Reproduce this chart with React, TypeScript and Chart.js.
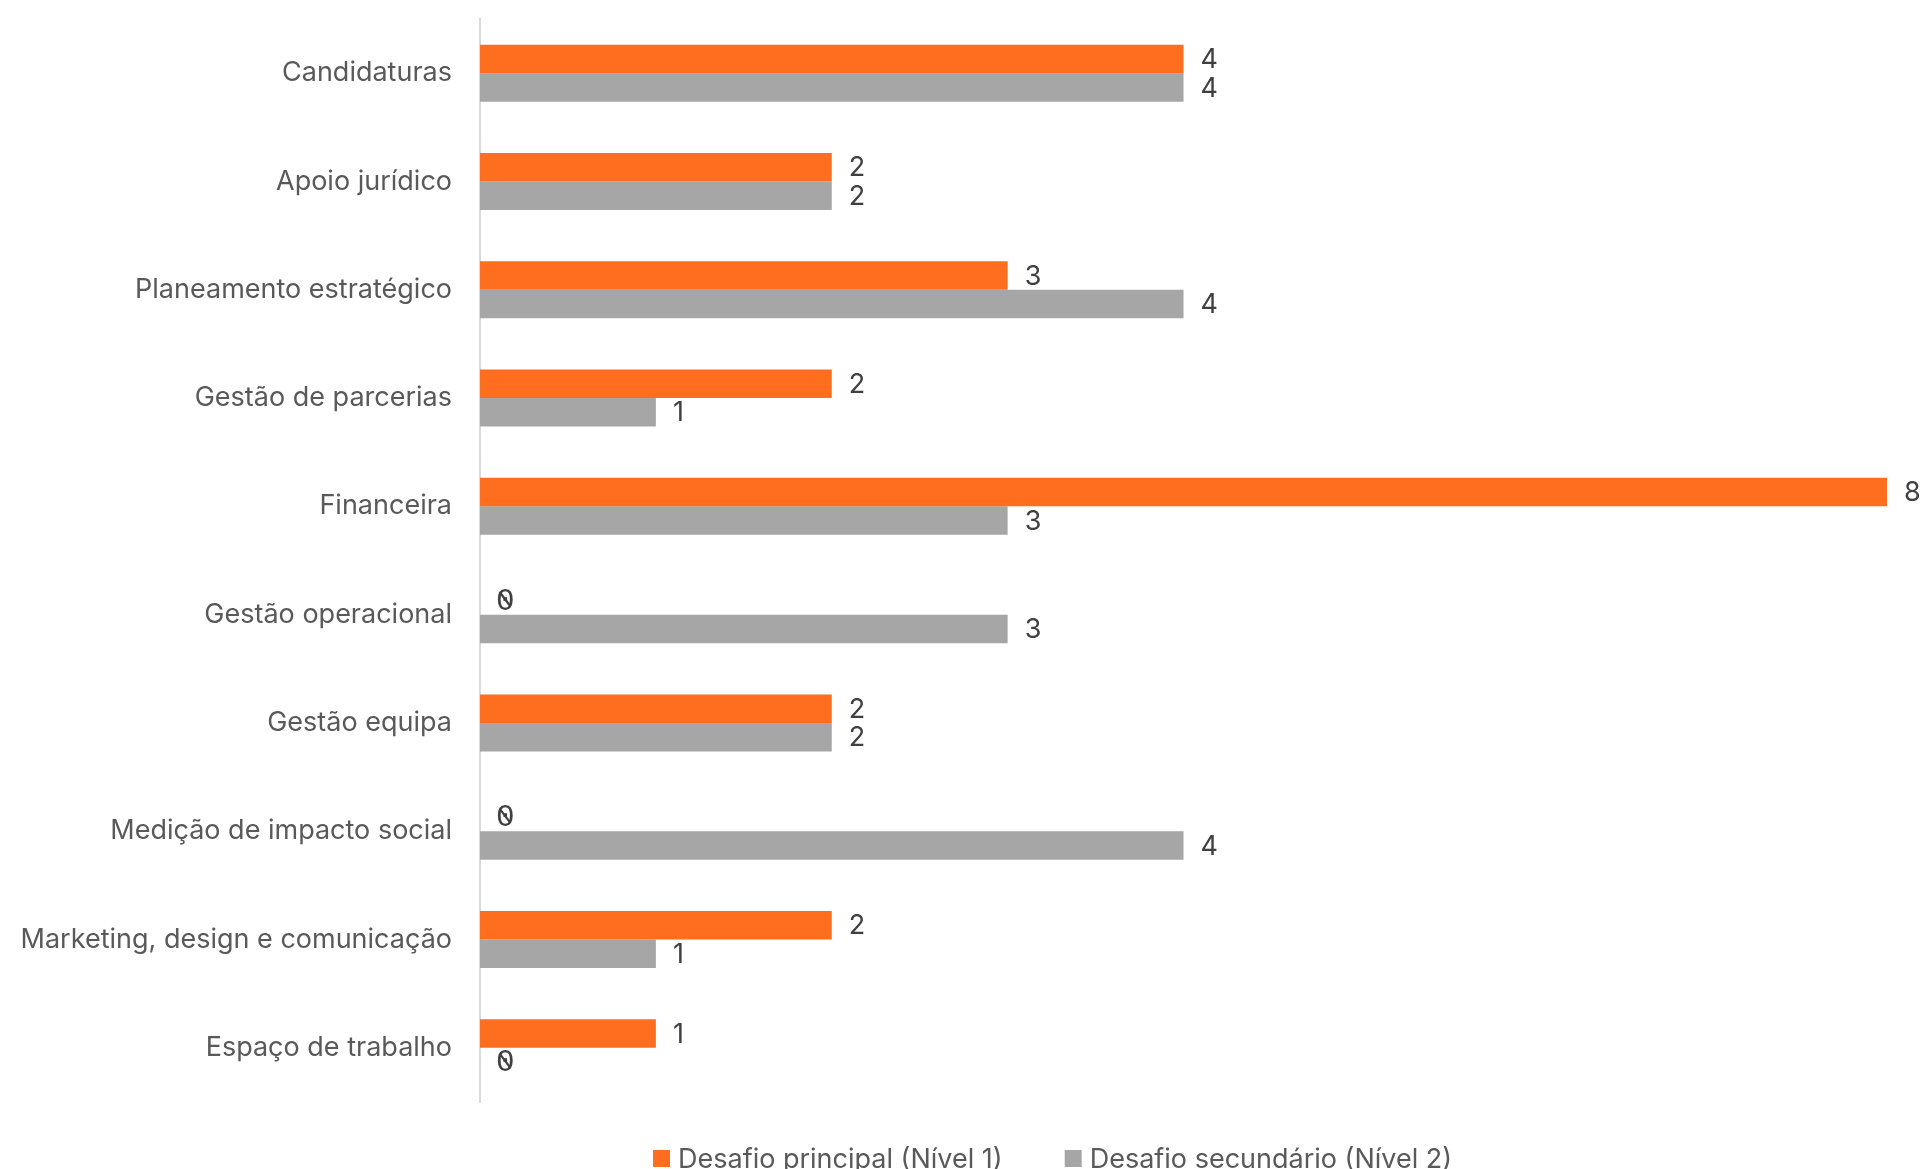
import React, { useEffect, useRef } from "react";
import { Chart, registerables } from "chart.js";

Chart.register(...registerables);

const categories = [
  "Candidaturas",
  "Apoio jurídico",
  "Planeamento estratégico",
  "Gestão de parcerias",
  "Financeira",
  "Gestão operacional",
  "Gestão equipa",
  "Medição de impacto social",
  "Marketing, design e comunicação",
  "Espaço de trabalho",
];
const nivel1 = [4, 2, 3, 2, 8, 0, 2, 0, 2, 1];
const nivel2 = [4, 2, 4, 1, 3, 3, 2, 4, 1, 0];
const seriesNames = ["Desafio principal (Nível 1)", "Desafio secundário (Nível 2)"];
const seriesColors = ["#FF6D1F", "#A6A6A6"];

const FONT = "Inter";

const valueLabels = {
  id: "valueLabels",
  afterDatasetsDraw(chart: any) {
    const ctx = chart.ctx;
    ctx.save();
    ctx.fillStyle = "#404040";
    ctx.strokeStyle = "#404040";
    ctx.textAlign = "left";
    ctx.textBaseline = "middle";
    chart.data.datasets.forEach((ds: any, di: number) => {
      const meta = chart.getDatasetMeta(di);
      meta.data.forEach((el: any, i: number) => {
        const v = ds.data[i];
        const text = String(v);
        const tx = el.x + 17;
        const ty = el.y + 1;
        if (v === 0) {
          ctx.font = `31px "Liberation Mono"`;
          ctx.fillText(text, tx - 1, ty);
          // slashed-zero glyph style, as in the reference
          const m = ctx.measureText(text);
          const l = tx - 1 - m.actualBoundingBoxLeft;
          const r = tx - 1 + m.actualBoundingBoxRight;
          const t = ty - m.actualBoundingBoxAscent;
          const b = ty + m.actualBoundingBoxDescent;
          const w = r - l;
          const h = b - t;
          ctx.lineWidth = 2.2;
          ctx.beginPath();
          ctx.moveTo(l + w * 0.16, t + h * 0.16);
          ctx.lineTo(r - w * 0.16, b - h * 0.16);
          ctx.stroke();
        } else {
          ctx.font = `27px ${FONT}`;
          ctx.fillText(text, tx, ty);
        }
      });
    });
    ctx.restore();
  },
};

const customLegend = {
  id: "customLegend",
  afterDraw(chart: any) {
    const ctx = chart.ctx;
    ctx.save();
    ctx.font = `27px ${FONT}`;
    ctx.textBaseline = "alphabetic";
    ctx.textAlign = "left";
    let x = 653;
    const base = 1168;
    seriesNames.forEach((name, i) => {
      ctx.fillStyle = seriesColors[i];
      ctx.fillRect(x, base - 18, 17, 17);
      ctx.fillStyle = "#595959";
      ctx.fillText(name, x + 25, base);
      x += 25 + ctx.measureText(name).width + 62;
    });
    ctx.restore();
  },
};

export default function App() {
  const ref = useRef<HTMLCanvasElement>(null);
  useEffect(() => {
    if (!ref.current) return;
    const chart = new Chart(ref.current, {
      type: "bar",
      data: {
        labels: categories,
        datasets: [
          { label: seriesNames[0], data: nivel1, backgroundColor: seriesColors[0] },
          { label: seriesNames[1], data: nivel2, backgroundColor: seriesColors[1] },
        ],
      },
      options: {
        indexAxis: "y",
        responsive: false,
        animation: false,
        devicePixelRatio: 1,
        layout: { padding: { top: 19, bottom: 67, right: 38, left: 0 } },
        datasets: { bar: { barPercentage: 1, categoryPercentage: 0.526 } },
        plugins: { legend: { display: false }, tooltip: { enabled: false } },
        scales: {
          x: { display: false, min: 0, max: 8 },
          y: {
            grid: { display: false, drawTicks: false },
            border: { display: true, color: "#D9D9D9", width: 2 },
            ticks: { padding: 28, color: "#595959", font: { family: FONT, size: 27 } },
            afterFit(scale: any) {
              scale.width = 480;
              scale.paddingTop = 0;
              scale.paddingBottom = 0;
            },
          },
        },
      } as any,
      plugins: [valueLabels, customLegend],
    });
    return () => chart.destroy();
  }, []);
  return (
    <div style={{ position: "absolute", left: 0, top: 0, width: 1925, height: 1169, background: "#fff" }}>
      <canvas ref={ref} width={1925} height={1169} />
    </div>
  );
}
